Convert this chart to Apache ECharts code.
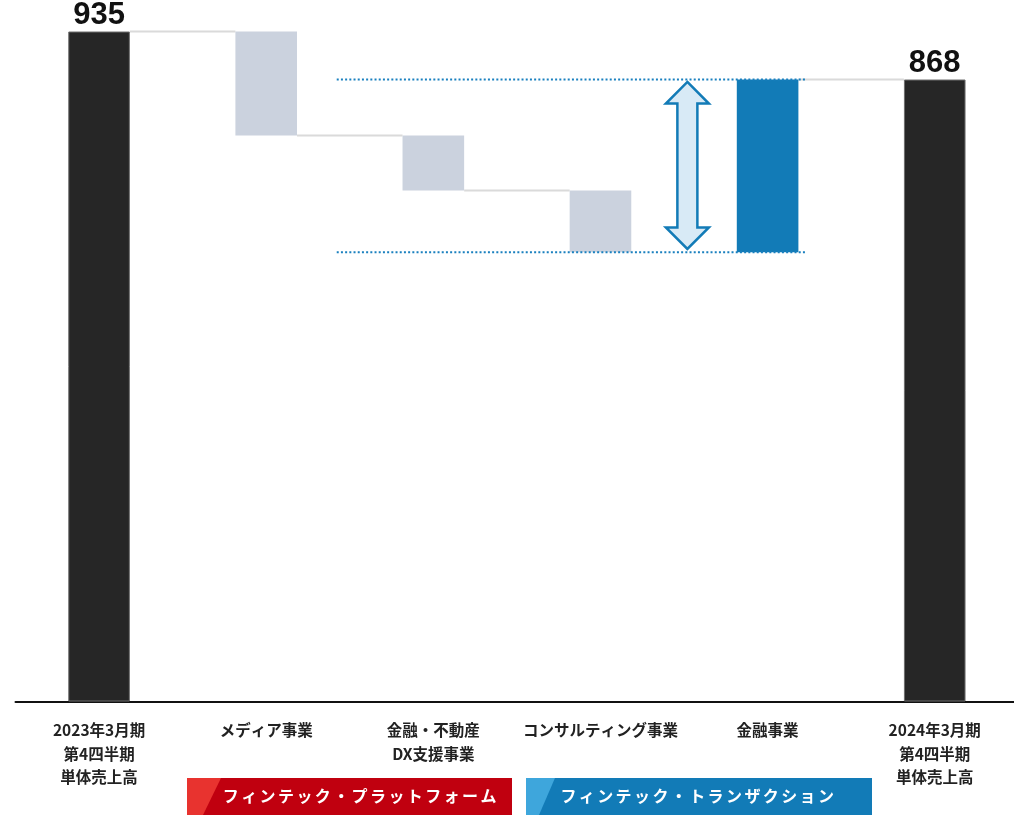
<!DOCTYPE html>
<html>
<head>
<meta charset="utf-8">
<script src="https://cdn.jsdelivr.net/npm/echarts@6/dist/echarts.min.js"></script>
<style>
  html, body { margin: 0; padding: 0; background: #ffffff; overflow: hidden; }
  /* the plot runs a few pixels past the right edge of the page */
  #chart { width: 1019px; height: 815px; }
</style>
</head>
<body>
<div id="chart"></div>
<script>
// ---- data ----
const categories = [
  '2023年3月期\n第4四半期\n単体売上高',
  'メディア事業',
  '金融・不動産\nDX支援事業',
  'コンサルティング事業',
  '金融事業',
  '2024年3月期\n第4四半期\n単体売上高'
];
const openingTotal = 935;
const segmentChanges = [-145, -77, -86, 241];
const closingTotal = 868;
const groupLabels = ['フィンテック・プラットフォーム', 'フィンテック・トランザクション'];

// ---- styling ----
const BAR_W = 61.6;
const COLOR_TOTAL = '#262626';
const COLOR_DOWN = '#cbd2de';
const COLOR_UP = '#127bb7';
const COLOR_CONNECT = '#dadada';
const FONT_JP = '"Noto Sans CJK JP", "Noto Sans", sans-serif';

// running level after each category
const levels = [openingTotal];
segmentChanges.forEach(c => levels.push(levels[levels.length - 1] + c));

// invisible base + visible step for the waterfall
const baseData = [0];
const stepData = [{
  value: openingTotal,
  itemStyle: { color: COLOR_TOTAL, borderColor: '#6e6e6e', borderWidth: 1 },
  label: { show: true }
}];
segmentChanges.forEach((c, i) => {
  const prev = levels[i], next = levels[i + 1];
  baseData.push(Math.min(prev, next));
  stepData.push({
    value: Math.abs(c),
    itemStyle: { color: c < 0 ? COLOR_DOWN : COLOR_UP }
  });
});
baseData.push(0);
stepData.push({
  value: closingTotal,
  itemStyle: { color: COLOR_TOTAL, borderColor: '#6e6e6e', borderWidth: 1 },
  label: { show: true }
});

// connector lines from category i to i+1 at level (skipped before an increase)
const connectorData = [];
for (let i = 0; i < levels.length; i++) {
  if (i < segmentChanges.length && segmentChanges[i] > 0) continue;
  connectorData.push([i, levels[i]]);
}

// range of the increase (index of increase category, low, high)
const upIndex = segmentChanges.findIndex(c => c > 0) + 1;
const rangeData = [[upIndex, levels[upIndex - 1], levels[upIndex]]];

const chart = echarts.init(document.getElementById('chart'), null, { renderer: 'canvas' });

function groupText(label, firstCenterX, step, cy) {
  return Array.from(label).map((ch, i) => ({
    type: 'text',
    z: 20,
    style: {
      text: ch,
      x: firstCenterX + i * step,
      y: cy,
      fill: '#ffffff',
      font: 'bold 16px ' + FONT_JP,
      textAlign: 'center',
      textVerticalAlign: 'middle'
    }
  }));
}

const option = {
  animation: false,
  backgroundColor: '#ffffff',
  grid: { left: 15.5, right: 0.7, top: 31.5, bottom: 113.5, containLabel: false },
  xAxis: {
    type: 'category',
    data: categories,
    axisLine: { show: true, lineStyle: { color: '#111111', width: 2 } },
    axisTick: { show: false },
    axisLabel: {
      interval: 0,
      margin: 17,
      color: '#222222',
      fontSize: 15.5,
      fontWeight: 'bold',
      lineHeight: 23.5,
      fontFamily: FONT_JP
    },
    splitLine: { show: false }
  },
  yAxis: {
    type: 'value',
    min: 0,
    max: openingTotal,
    show: false,
    splitLine: { show: false }
  },
  series: [
    {
      name: 'base',
      type: 'bar',
      stack: 'wf',
      barWidth: BAR_W,
      data: baseData,
      itemStyle: { color: 'rgba(0,0,0,0)' },
      silent: true,
      z: 2
    },
    {
      name: 'step',
      type: 'bar',
      stack: 'wf',
      barWidth: BAR_W,
      data: stepData,
      z: 3,
      label: {
        show: false,
        position: 'top',
        distance: 1,
        color: '#111111',
        fontSize: 31,
        fontWeight: 'bold',
        fontFamily: '"Liberation Sans", Arial, sans-serif'
      }
    },
    {
      name: 'connectors',
      type: 'custom',
      data: connectorData,
      encode: { x: 0, y: 1 },
      z: 1,
      silent: true,
      renderItem(params, api) {
        const i = api.value(0), v = api.value(1);
        const p0 = api.coord([i, v]);
        const p1 = api.coord([i + 1, v]);
        const half = BAR_W / 2;
        return {
          type: 'line',
          shape: { x1: p0[0] + half, y1: p0[1], x2: p1[0] - half, y2: p1[1] },
          style: { stroke: COLOR_CONNECT, lineWidth: 2 }
        };
      }
    },
    {
      name: 'range',
      type: 'custom',
      data: rangeData,
      encode: { x: 0, y: [1, 2] },
      z: 4,
      silent: true,
      renderItem(params, api) {
        const idx = api.value(0);
        const lo = api.value(1), hi = api.value(2);
        const band = api.size([1, 0])[0];
        const yHi = api.coord([idx, hi])[1];
        const yLo = api.coord([idx, lo])[1];
        const xStart = api.coord([idx - 2, hi])[0] - 0.578 * band;
        const xEnd = api.coord([idx, hi])[0] + 0.236 * band;
        const cx = (api.coord([idx - 1, hi])[0] + api.coord([idx, hi])[0]) / 2 + 0.02 * band;
        const top = yHi + 2.4, bot = yLo - 3.2;
        const hw = 21.5, sw = 10, hl = 21.6;
        const dotted = { stroke: '#1a80bf', lineWidth: 2, lineDash: [2, 2.2] };
        return {
          type: 'group',
          children: [
            { type: 'line', shape: { x1: xStart, y1: yHi, x2: xEnd, y2: yHi }, style: dotted, z2: 5 },
            { type: 'line', shape: { x1: xStart, y1: yLo, x2: xEnd, y2: yLo }, style: dotted, z2: 5 },
            {
              type: 'polygon',
              shape: {
                points: [
                  [cx, top], [cx + hw, top + hl], [cx + sw, top + hl],
                  [cx + sw, bot - hl], [cx + hw, bot - hl], [cx, bot],
                  [cx - hw, bot - hl], [cx - sw, bot - hl], [cx - sw, top + hl],
                  [cx - hw, top + hl]
                ]
              },
              style: { fill: '#d8eaf6', stroke: '#127bb7', lineWidth: 2.5, lineJoin: 'miter' },
              z2: 6
            }
          ]
        };
      }
    }
  ],
  graphic: [
    // segment group tags under the axis
    { type: 'rect', shape: { x: 187, y: 778, width: 325, height: 37 }, style: { fill: '#c0000f' }, z: 10 },
    { type: 'polygon', shape: { points: [[187, 778], [221, 778], [203, 815], [187, 815]] }, style: { fill: '#e8332f' }, z: 11 },
    { type: 'rect', shape: { x: 526, y: 778, width: 346, height: 37 }, style: { fill: '#127bb7' }, z: 10 },
    { type: 'polygon', shape: { points: [[526, 778], [555, 778], [539, 815], [526, 815]] }, style: { fill: '#3ea6dc' }, z: 11 },
    ...groupText(groupLabels[0], 230.8, 18.4, 795.8),
    ...groupText(groupLabels[1], 568.4, 18.4, 795.8)
  ]
};

chart.setOption(option);
</script>
</body>
</html>
